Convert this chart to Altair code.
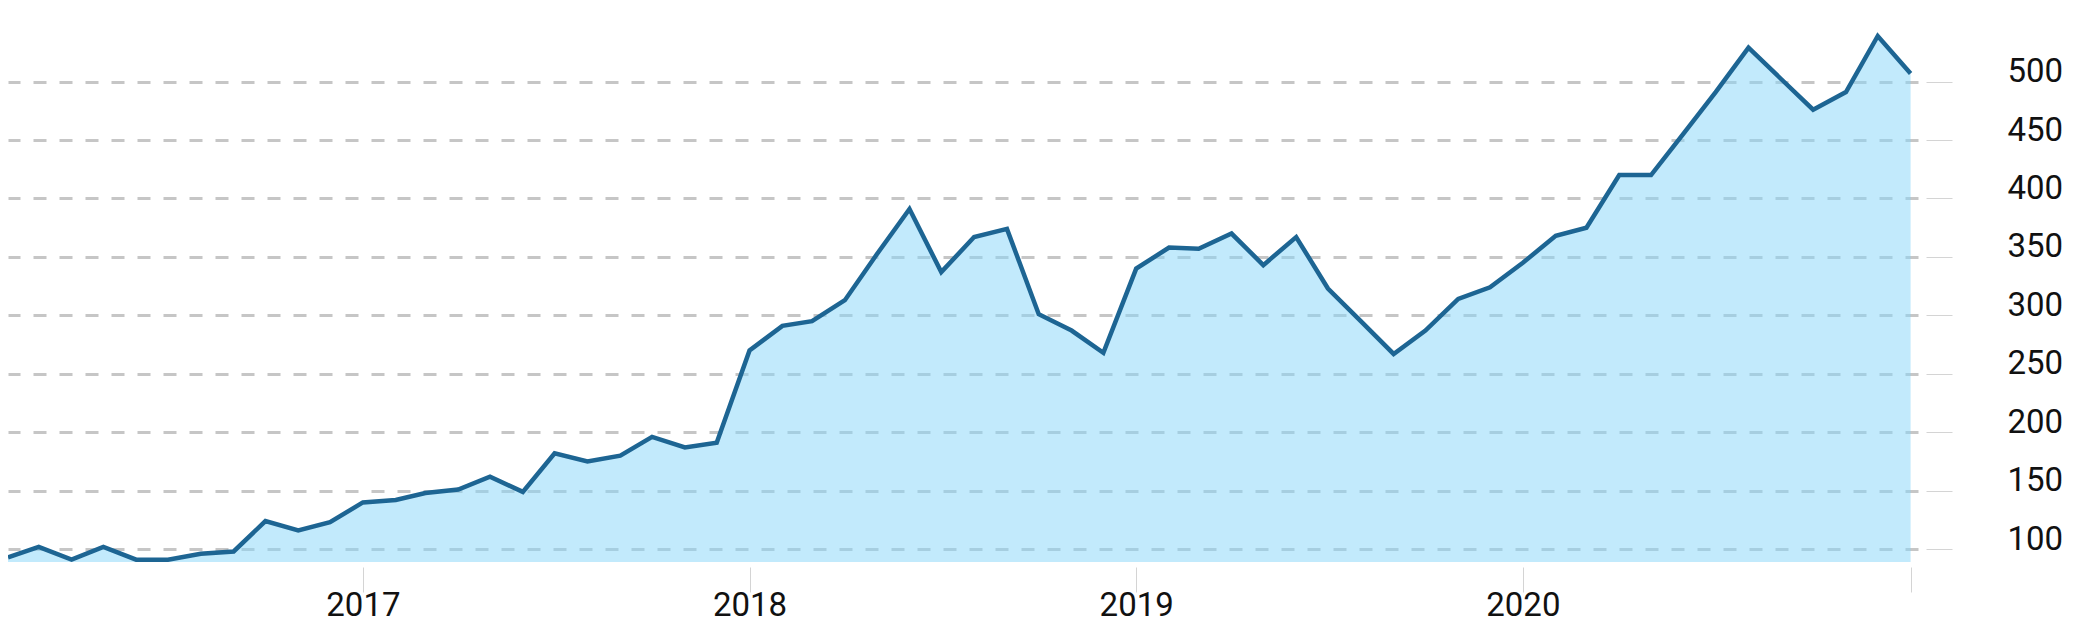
import altair as alt
import pandas as pd

# Monthly values, Feb 2016 .. Jan 2021
v2016 = [93, 102, 91, 102, 91, 91, 96, 98, 124, 116, 123]          # Feb-Dec
v2017 = [140, 142, 148, 151, 162, 149, 182, 175, 180, 196, 187, 191]
v2018 = [270, 291, 295, 313, 352, 391, 337, 367, 374, 301, 287, 268]
v2019 = [340, 358, 357, 370, 343, 367, 323, 295, 267, 287, 314, 324]
v2020 = [345, 368, 375, 420, 420, 456, 491, 529, 502, 476, 491, 539]
v2021 = [507]                                                          # Jan

year_ticks = [2017, 2018, 2019, 2020, 2021]
y_ticks = [100, 150, 200, 250, 300, 350, 400, 450, 500]
y_domain = [89, 539]

values = v2016 + v2017 + v2018 + v2019 + v2020 + v2021
dates = pd.date_range("2016-02-01", periods=len(values), freq="MS").strftime("%Y-%m-%d").tolist()
df = pd.DataFrame({"date": dates, "value": values})

FONT = "Roboto"

x_enc = alt.X(
    "date:T",
    scale=alt.Scale(
        type="utc",
        domain=[alt.DateTime(year=2016, month=2, date=1, utc=True),
                alt.DateTime(year=2021, month=1, date=8, utc=True)],
    ),
    axis=alt.Axis(
        title=None,
        values=[alt.DateTime(year=y, month=1, date=1, utc=True) for y in year_ticks],
        labelExpr="utcFormat(datum.value, '%Y') == '2021' ? '' : utcFormat(datum.value, '%Y')",
        grid=False,
        domain=False,
        ticks=True,
        tickSize=25,
        tickColor="#d4d4d4",
        tickWidth=1,
        offset=5,
        labelFont=FONT,
        labelFontSize=33,
        labelColor="#111111",
        labelBaseline="alphabetic",
        labelPadding=23,
        labelFlush=False,
        labelOverlap=False,
    ),
)

y_enc = alt.Y(
    "value:Q",
    scale=alt.Scale(domain=y_domain, zero=False, nice=False),
    axis=alt.Axis(
        orient="right",
        title=None,
        values=y_ticks,
        grid=True,
        gridDash=[13, 13],
        gridColor="#c6c6c6",
        gridWidth=3,
        domain=False,
        tickSize=26,
        tickColor="#d4d4d4",
        tickWidth=1,
        offset=8,
        labelFont=FONT,
        labelFontSize=33,
        labelColor="#111111",
        labelBaseline="alphabetic",
        labelPadding=55,
        labelAlign="left",
    ),
)

base = alt.Chart(df).encode(x=x_enc, y=y_enc)
area = base.mark_area(color="#85d5f9", opacity=0.5).encode(y2=alt.datum(y_domain[0]))
line = base.mark_line(color="#1d6593", strokeWidth=4.5)

chart = (
    alt.layer(area, line)
    .properties(
        width=1910,
        height=526,
        autosize=alt.AutoSizeParams(type="none"),
        padding={"left": 0, "top": 28, "right": 160, "bottom": 70},
        background="white",
    )
    .configure_view(stroke=None)
)

chart.save("out.html", embed_options={"renderer": "svg", "actions": False})
